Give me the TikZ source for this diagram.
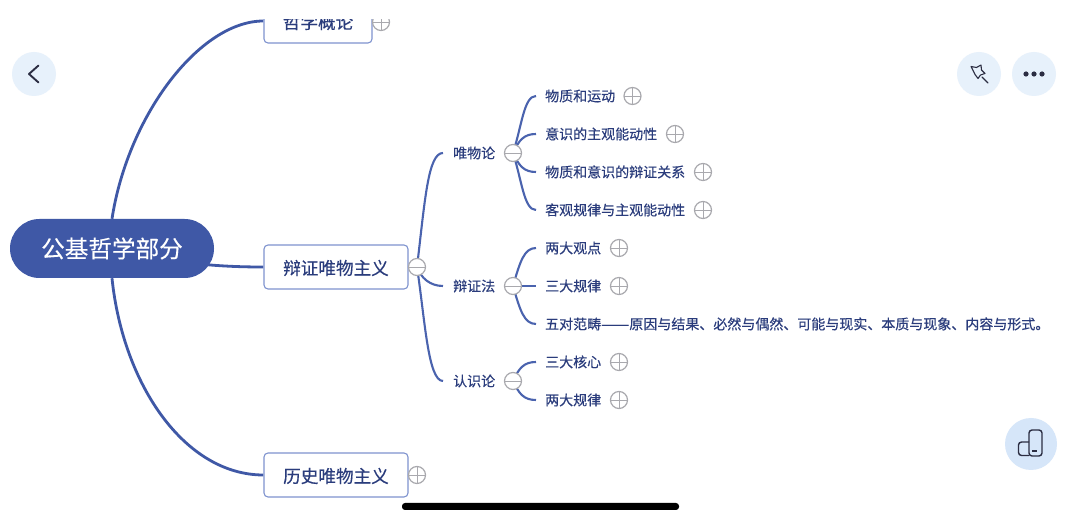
\documentclass[tikz,border=0pt]{standalone}
\usepackage{fontspec}
\usepackage{graphicx}
\setmainfont{Noto Sans CJK SC}[FakeBold=0.35]
\usetikzlibrary{backgrounds}
\definecolor{mainblue}{HTML}{3F58A6}
\definecolor{linkblue}{HTML}{4A63AE}
\definecolor{boxedge}{HTML}{7F93CF}
\definecolor{ink}{HTML}{2A3C7C}
\definecolor{knob}{HTML}{A9A9AE}
\definecolor{btn}{HTML}{E7F1FB}
\definecolor{btnb}{HTML}{D6E6F9}
\definecolor{icon}{HTML}{2B2D42}
\tikzset{
  rootnode/.style={rounded corners=29.5pt,fill=mainblue,text=white,minimum width=204pt,minimum height=59pt,inner sep=0pt,font=\fontsize{23.6}{26}\selectfont},
  topicbox/.style={draw=boxedge,line width=1.1pt,rounded corners=4pt,fill=white,text=ink,minimum height=44pt,inner sep=0pt,text height=16pt,text depth=.6pt,font=\fontsize{17.6}{20}\selectfont},
  midtext/.style={anchor=west,text=ink,inner xsep=10pt,inner ysep=2pt,text height=12.3pt,text depth=1.7pt,font=\fontsize{14}{16}\selectfont},
  leaftext/.style={anchor=west,text=ink,inner xsep=9pt,inner ysep=2pt,text height=12.3pt,text depth=1.7pt,font=\fontsize{14}{16}\selectfont},
  knobbase/.style={circle,draw=knob,line width=1.2pt,fill=white,minimum size=17pt,inner sep=0pt},
  plusknob/.style={knobbase,path picture={\draw[knob,line width=.9pt] (path picture bounding box.west)--(path picture bounding box.east) (path picture bounding box.north)--(path picture bounding box.south);}},
  minusknob/.style={knobbase,path picture={\draw[knob,line width=.9pt] (path picture bounding box.west)--(path picture bounding box.east);}},
  thick link/.style={draw=mainblue,line width=2.8pt},
  mid link/.style={draw=linkblue,line width=2.1pt},
}
\begin{document}
\begin{tikzpicture}[x=1pt,y=-1pt]
\useasboundingbox (0,0) rectangle (1080,510);

\begin{scope}
\clip (0,20) rectangle (1080,510);

\node[rootnode] (root) at (112,248.5) {公基哲学部分};
\node[topicbox,minimum width=108pt] (t1) at (318,21) {哲学概论};
\node[topicbox,minimum width=144pt] (t2) at (336,267) {辩证唯物主义};
\node[topicbox,minimum width=144pt] (t3) at (336,475) {历史唯物主义};

\node[plusknob] (k1) at (381,22) {};
\node[minusknob] (k2) at (417,267) {};
\node[plusknob] (k3) at (417,475) {};

\node[midtext] (m1) at (443,153) {唯物论};
\node[midtext] (m2) at (443,286) {辩证法};
\node[midtext] (m3) at (443,381) {认识论};

\node[minusknob] (km1) at (513,153) {};
\node[minusknob] (km2) at (513,286) {};
\node[minusknob] (km3) at (513,381) {};

\node[leaftext] (a1) at (536,96) {物质和运动};
\node[leaftext] (a2) at (536,134) {意识的主观能动性};
\node[leaftext] (a3) at (536,172) {物质和意识的辩证关系};
\node[leaftext] (a4) at (536,210) {客观规律与主观能动性};
\node[leaftext] (b1) at (536,248) {两大观点};
\node[leaftext] (b2) at (536,286) {三大规律};
\node[leaftext] (b3) at (536,324) {五对范畴\scalebox{1.2}[1]{——}原因与结果、必然与偶然、可能与现实、本质与现象、内容与形式。};
\node[leaftext] (c1) at (536,362) {三大核心};
\node[leaftext] (c2) at (536,400) {两大规律};

\node[plusknob] (pa1) at (632.5,96) {};
\node[plusknob] (pa2) at (675,134) {};
\node[plusknob] (pa3) at (703,172) {};
\node[plusknob] (pa4) at (703,210) {};
\node[plusknob] (pb1) at (619,248) {};
\node[plusknob] (pb2) at (619,286) {};
\node[plusknob] (pc1) at (619,362) {};
\node[plusknob] (pc2) at (619,400) {};

\begin{pgfonlayer}{background}
\fill[white] (0,0) rectangle (1080,510);
\draw[thick link] (root.north) .. controls (128,115) and (200,21) .. (t1.west);
\draw[thick link] (root.south) .. controls (123,385) and (185,475) .. (t3.west);
\draw[thick link] (root.center) .. controls (180,266) and (235,267) .. (t2.west);
\draw[mid link] (k2.center) .. controls (425,200) and (428,153) .. (m1.west);
\draw[mid link] (k2.center) .. controls (421,278) and (430,286) .. (m2.west);
\draw[mid link] (k2.center) .. controls (425,320) and (428,381) .. (m3.west);
\draw[mid link] (km1.center) .. controls (522,125) and (524,96) .. (a1.west);
\draw[mid link] (km1.center) .. controls (519,140) and (524,134) .. (a2.west);
\draw[mid link] (km1.center) .. controls (519,166) and (524,172) .. (a3.west);
\draw[mid link] (km1.center) .. controls (522,181) and (524,210) .. (a4.west);
\draw[mid link] (km2.center) .. controls (520,262) and (524,248) .. (b1.west);
\draw[mid link] (km2.center) -- (b2.west);
\draw[mid link] (km2.center) .. controls (520,310) and (524,324) .. (b3.west);
\draw[mid link] (km3.center) .. controls (519,368) and (524,362) .. (c1.west);
\draw[mid link] (km3.center) .. controls (519,394) and (524,400) .. (c2.west);
\end{pgfonlayer}
\end{scope}

% screen buttons
\fill[btn] (34,74) circle[radius=22];
\draw[icon,line width=1.9pt,line join=round,line cap=round] (38.5,65.5) -- (29,74) -- (38.5,82.5);
\fill[btn] (979,74) circle[radius=22];
\draw[icon,line width=1.1pt,line join=round] (971,66.5) -- (976.5,67.5) -- (981,65) -- (981.5,70) -- (985,73.5) -- (980.5,75) -- (978,78.5) -- (975,74.5) -- cycle;
\draw[icon,line width=1.1pt,line cap=round] (982,77) -- (988,83);
\fill[btn] (1034,74) circle[radius=22];
\fill[icon] (1026,74) circle[radius=2.6] (1034,74) circle[radius=2.6] (1042,74) circle[radius=2.6];
\fill[btnb] (1031,444) circle[radius=26];
\draw[icon,line width=1.4pt,rounded corners=3pt] (1029,430) rectangle (1042,456);
\draw[icon,line width=1.4pt,rounded corners=3pt] (1029,442) -- (1018.5,442) -- (1018.5,455.5) -- (1029,455.5);
\draw[icon,line width=1.4pt] (1032,451) -- (1037,451);
% home bar
\fill[black,rounded corners=3pt] (402,503) rectangle (679,510);
\end{tikzpicture}
\end{document}
